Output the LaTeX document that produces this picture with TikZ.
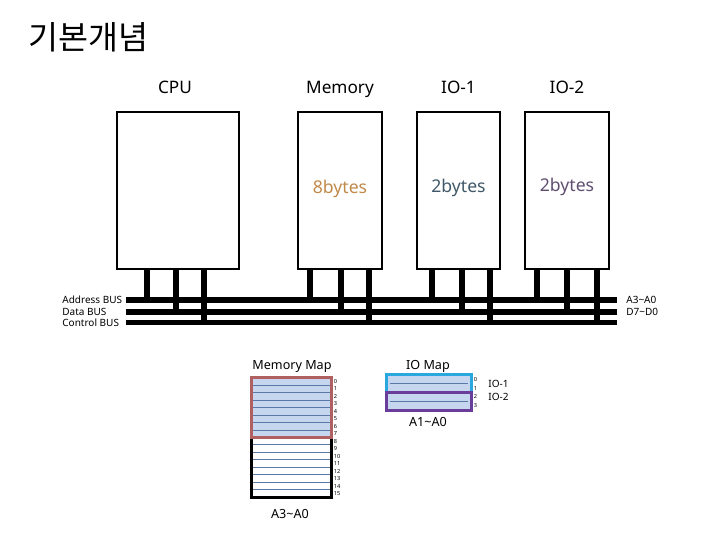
\documentclass[tikz,border=0pt]{standalone}
\usepackage{fontspec}
\setmainfont{Noto Sans}
\newfontfamily\kofont{Noto Sans CJK KR}
\usetikzlibrary{positioning,calc}

\definecolor{memtxt}{HTML}{C08A4A}
\definecolor{iotxtA}{HTML}{405868}
\definecolor{iotxtB}{HTML}{604E70}
\definecolor{memfill}{HTML}{C6D6EE}
\definecolor{memedge}{HTML}{B06060}
\definecolor{rowblue}{HTML}{5A78A8}
\definecolor{iocyan}{HTML}{29A8E0}
\definecolor{iopurple}{HTML}{6A3D9A}
\newcommand\bytesfont{\fontsize{8.8}{9}\selectfont}

\begin{document}
\begin{tikzpicture}[x=0.5pt, y=-0.5pt,
  unit/.style={draw, line width=1.3pt, minimum height=78.5pt, inner sep=0pt},
  head/.style={font=\fontsize{8.6}{9}\selectfont, inner sep=0pt, text depth=0pt},
  bus/.style={line width=2.8pt},
  stub/.style={line width=3pt},
  buslbl/.style={font=\fontsize{5}{5}\selectfont, inner sep=0pt},
  maplbl/.style={font=\fontsize{6.3}{6.3}\selectfont, inner sep=0pt},
  rownum/.style={font=\fontsize{2.8}{2.8}\selectfont, inner sep=0pt, anchor=west},
  rowline/.style={draw=rowblue, line width=0.5pt},
  mapline/.style={draw=black, line width=1.5pt}]
\useasboundingbox (0,0) rectangle (720,540);

\node[anchor=west, inner sep=0pt, font=\kofont\fontsize{16.3}{16}\selectfont] (title) at (28,37) {기본개념};

\node[unit, minimum width=61pt] (cpu) at (178,190.5) {};
\node[unit, minimum width=42pt] (mem) at (340,190.5) {\raisebox{3.5pt}{\textcolor{memtxt}{\bytesfont 8bytes}}};
\node[unit, minimum width=41.5pt] (io1) at (458.5,190.5) {\raisebox{5pt}{\textcolor{iotxtA}{\bytesfont 2bytes}}};
\node[unit, minimum width=42pt] (io2) at (567,190.5) {\raisebox{5.5pt}{\textcolor{iotxtB}{\bytesfont 2bytes}}};

\node[head, above=8.5pt of cpu, xshift=-1.5pt] (cpuname) {CPU};
\node[head, above=8.5pt of mem] (memname) {Memory};
\node[head, above=8.5pt of io1] (io1name) {IO-1};
\node[head, above=8.5pt of io2] (io2name) {IO-2};

\coordinate (abus) at (126,300);
\coordinate (abusend) at (617,300);
\coordinate (dbus) at (126,312);
\coordinate (dbusend) at (617,312);
\coordinate (cbus) at (126,322.5);
\coordinate (cbusend) at (617,322.5);

\foreach \n/\f/\b in {cpu/0.25/abus, cpu/0.484/dbus, cpu/0.71/cbus,
                      mem/0.151/abus, mem/0.512/dbus, mem/0.837/cbus,
                      io1/0.188/abus, io1/0.541/dbus, io1/0.871/cbus,
                      io2/0.151/abus, io2/0.5/dbus, io2/0.849/cbus}
  \draw[stub] ($(\n.south west)!\f!(\n.south east)$) coordinate (s) -- (s |- \b);

\draw[bus] (abus) -- (abusend);
\draw[bus] (dbus) -- (dbusend);
\draw[bus] (cbus) -- (cbusend);

\node[buslbl, anchor=west] (abuslbl) at (62,299.5) {Address BUS};
\node[buslbl, anchor=west] (dbuslbl) at (62,311.5) {Data BUS};
\node[buslbl, anchor=west] (cbuslbl) at (62,323) {Control BUS};
\node[buslbl, right=4.5pt of abusend] (arange) {A3\textasciitilde A0};
\node[buslbl, right=4.5pt of dbusend] (drange) {D7\textasciitilde D0};

\node[minimum width=39.5pt, minimum height=59.5pt, inner sep=0pt] (memmap) at (291.5,437.5) {};
\fill[memfill] (memmap.north west) rectangle (memmap.east);
\foreach \i in {1,...,15}
  \draw[rowline] ($(memmap.north west)!\i/16!(memmap.south west)$) -- ($(memmap.north east)!\i/16!(memmap.south east)$);
\draw[mapline] (memmap.north west) rectangle (memmap.south east);
\draw[draw=memedge, line width=1.5pt] (memmap.north west) rectangle (memmap.east);
\foreach \i in {0,...,15}
  \node[rownum] (memrow\i) at ($(memmap.north east)!{(\i+0.5)/16}!(memmap.south east)+(2,0)$) {\i};
\node[maplbl] (memmaplbl) at (292,367) {Memory Map};
\node[maplbl] (memaddr) at (290,514) {A3\textasciitilde A0};

\node[minimum width=42pt, minimum height=17.5pt, inner sep=0pt] (iomap) at (429,392.5) {};
\filldraw[draw=iocyan, fill=memfill, line width=1.6pt] (iomap.north west) rectangle (iomap.east);
\filldraw[draw=iopurple, fill=memfill, line width=1.6pt] (iomap.west) rectangle (iomap.south east);
\foreach \i in {1,3}
  \draw[rowline] ($(iomap.north west)!\i/4!(iomap.south west)+(3,0)$) -- ($(iomap.north east)!\i/4!(iomap.south east)+(-3,0)$);
\foreach \i in {0,...,3}
  \node[rownum] (iorow\i) at ($(iomap.north east)!{(\i+0.5)/4}!(iomap.south east)+(2,0)$) {\i};
\node[maplbl] (iomaplbl) at (428,366) {IO Map};
\node[maplbl] (ioaddr) at (428,422) {A1\textasciitilde A0};
\node[buslbl, anchor=west] (io1tag) at (488,384) {IO-1};
\node[buslbl, anchor=west] (io2tag) at (488,397) {IO-2};
\end{tikzpicture}
\end{document}
